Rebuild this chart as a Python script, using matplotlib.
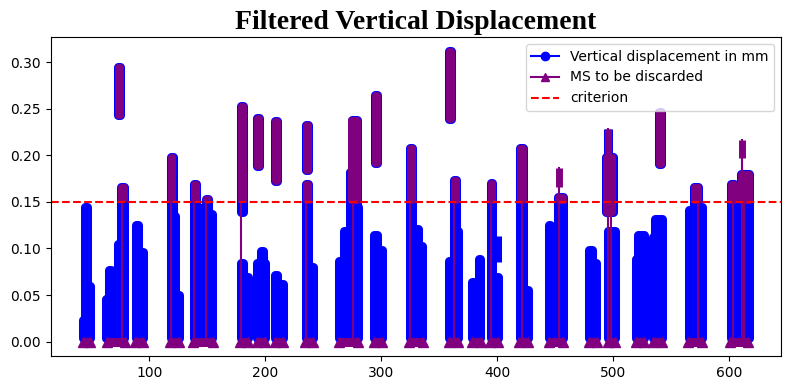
import matplotlib.pyplot as plt
from matplotlib.patches import Polygon

# vertical displacement (mm): each column spans x0..x1, from ymin to ymax
disp_cols = [
    (43.1, 44.3, 0.004, 0.023), (44.3, 46.1, 0.004, 0.145), (46.1, 48.9, 0.004, 0.060),
    (62.5, 65.3, 0.004, 0.046), (65.3, 67.0, 0.004, 0.077),
    (73.4, 75.9, 0.004, 0.105), (75.9, 78.5, 0.004, 0.166), (73.4, 75.1, 0.243, 0.295),
    (88.4, 90.1, 0.004, 0.125), (90.1, 94.4, 0.004, 0.096),
    (118.5, 120.2, 0.004, 0.198), (120.2, 122.5, 0.004, 0.135), (122.5, 125.4, 0.004, 0.050),
    (138.6, 140.4, 0.004, 0.169), (140.4, 148.7, 0.004, 0.143), (148.7, 150.5, 0.004, 0.153),
    (150.5, 154.2, 0.004, 0.137),
    (178.9, 180.6, 0.139, 0.253), (178.9, 180.6, 0.004, 0.084), (180.6, 184.9, 0.004, 0.069),
    (193.2, 194.9, 0.189, 0.240), (193.2, 199.8, 0.004, 0.084), (196.4, 198.1, 0.004, 0.097),
    (208.5, 210.2, 0.172, 0.237), (208.5, 210.2, 0.004, 0.071), (210.2, 215.1, 0.004, 0.062),
    (234.9, 236.6, 0.184, 0.233), (234.9, 237.1, 0.004, 0.169), (237.1, 240.9, 0.004, 0.080),
    (263.5, 268.0, 0.004, 0.087), (268.0, 273.0, 0.004, 0.119), (273.0, 274.9, 0.004, 0.182),
    (274.9, 278.9, 0.004, 0.238), (278.9, 280.3, 0.004, 0.145),
    (294.4, 296.1, 0.192, 0.265), (294.0, 296.1, 0.004, 0.115), (296.1, 300.4, 0.004, 0.098),
    (324.9, 326.6, 0.004, 0.208), (326.6, 331.5, 0.004, 0.121), (331.5, 335.2, 0.004, 0.103),
    (358.7, 362.7, 0.004, 0.087), (362.7, 364.5, 0.004, 0.174), (364.5, 366.0, 0.004, 0.119),
    (358.5, 360.2, 0.239, 0.312),
    (378.5, 384.3, 0.004, 0.064), (384.3, 385.2, 0.004, 0.089),
    (394.3, 395.5, 0.004, 0.170), (395.5, 400.5, 0.004, 0.069), (399.5, 399.5, 0.085, 0.113),
    (419.6, 422.5, 0.004, 0.208), (422.5, 426.3, 0.004, 0.055),
    (444.7, 445.6, 0.004, 0.125), (445.6, 452.5, 0.004, 0.120), (452.5, 456.5, 0.004, 0.155),
    (479.2, 481.8, 0.004, 0.098), (481.8, 485.3, 0.004, 0.084),
    (494.1, 499.6, 0.139, 0.198), (495.2, 495.2, 0.198, 0.228), (495.0, 501.1, 0.004, 0.119),
    (519.5, 521.5, 0.004, 0.089), (521.5, 526.4, 0.004, 0.114),
    (534.4, 536.1, 0.004, 0.112), (536.1, 541.9, 0.004, 0.132), (539.6, 540.7, 0.191, 0.247),
    (564.9, 569.8, 0.004, 0.141), (569.8, 573.0, 0.004, 0.166), (573.0, 576.4, 0.004, 0.145),
    (601.4, 603.7, 0.004, 0.169), (610.1, 617.0, 0.004, 0.180),
]

# measurements to be discarded
discard_cols = [
    (75.9, 78.0, 0.153, 0.166), (73.4, 75.1, 0.243, 0.295),
    (119.0, 119.6, 0.153, 0.198),
    (138.6, 140.4, 0.153, 0.169), (148.7, 150.5, 0.152, 0.153),
    (178.9, 180.6, 0.153, 0.253),
    (193.2, 194.9, 0.189, 0.240),
    (208.5, 210.2, 0.172, 0.237),
    (234.9, 236.6, 0.184, 0.233), (234.9, 237.1, 0.152, 0.169),
    (274.0, 278.9, 0.152, 0.238),
    (294.4, 296.1, 0.192, 0.265),
    (324.9, 326.6, 0.152, 0.208),
    (362.7, 364.5, 0.152, 0.174), (358.5, 360.2, 0.239, 0.312),
    (394.3, 395.5, 0.152, 0.170),
    (419.6, 422.5, 0.152, 0.208),
    (453.6, 453.6, 0.166, 0.186), (452.5, 456.5, 0.152, 0.155),
    (494.1, 498.5, 0.139, 0.198), (495.2, 495.2, 0.198, 0.228),
    (539.6, 540.7, 0.191, 0.247),
    (569.8, 573.0, 0.152, 0.166),
    (601.4, 603.7, 0.152, 0.169), (610.1, 617.0, 0.152, 0.180), (610.9, 610.9, 0.197, 0.217),
]
discard_stems = [
    (76.3, 0.166), (118.5, 0.198), (138.9, 0.169), (148.7, 0.153), (179.1, 0.150),
    (235.4, 0.169), (276.0, 0.238), (324.9, 0.208), (362.7, 0.174), (394.3, 0.170),
    (421.1, 0.208), (453.6, 0.186), (495.2, 0.228), (497.9, 0.198), (573.0, 0.166),
    (603.1, 0.169), (610.9, 0.217), (612.9, 0.180),
]
discard_base = [
    (43.1, 49.0), (63.3, 79.4), (87.8, 94.9), (117.9, 125.4), (138.0, 154.8),
    (178.2, 184.9), (193.2, 200.1), (208.5, 215.1), (234.3, 240.9), (263.5, 280.3),
    (294.0, 300.4), (323.9, 335.7), (358.7, 366.0), (378.5, 386.1), (393.7, 400.5),
    (418.3, 426.3), (444.7, 456.5), (479.2, 486.1), (495.0, 501.1), (519.5, 526.4),
    (534.4, 541.9), (564.0, 576.4), (600.6, 616.1),
]
criterion = 0.15


def column(ax, x0, x1, y0, y1, color, lw):
    # a run of markers: rectangle of marker centres, stroked with the marker size
    ax.add_patch(Polygon([(x0, y0), (x1, y0), (x1, y1), (x0, y1)], closed=True,
                         facecolor=color, edgecolor=color, lw=lw, joinstyle='round'))


fig, ax = plt.subplots(figsize=(7.9, 3.9), dpi=100)
fig.subplots_adjust(left=0.064, right=0.989, bottom=0.087, top=0.905)

for x0, x1, y0, y1 in disp_cols:
    column(ax, x0, x1, y0, y1, 'blue', 6.5)

for x0, x1 in discard_base:
    ax.plot([x0, x1], [0, 0], color='purple', lw=6.5, solid_capstyle='butt',
            marker='^', ms=6.5)
for x, top in discard_stems:
    ax.plot([x, x], [0, top], color='purple', lw=1.5)
for x0, x1, y0, y1 in discard_cols:
    column(ax, x0, x1, y0, y1, 'purple', 5)

# legend handles
ax.plot([], [], color='blue', marker='o', label='Vertical displacement in mm')
ax.plot([], [], color='purple', marker='^', label='MS to be discarded')
ax.axhline(criterion, color='red', linestyle='--', label='criterion')

ax.set_xlim(14.9, 644.8)
ax.set_ylim(-0.0155, 0.327)
ax.set_title('Filtered Vertical Displacement', fontsize=20, fontweight='bold',
             family='Liberation Serif')
ax.legend(loc='upper right')

plt.savefig('out.png')
